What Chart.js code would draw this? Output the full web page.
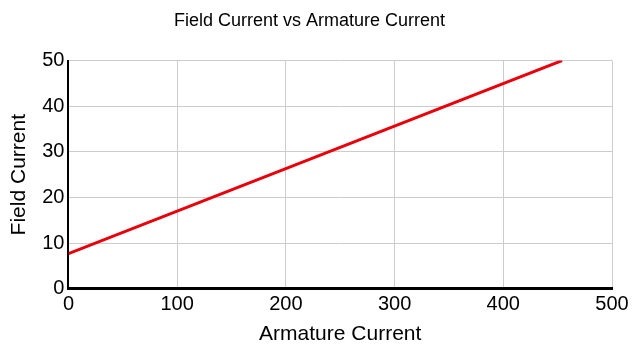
<!DOCTYPE html>
<html>
<head>
<meta charset="utf-8">
<script src="https://cdn.jsdelivr.net/npm/chart.js@4/dist/chart.umd.min.js"></script>
<style>
  html, body { margin: 0; padding: 0; background: #fff; }
  #wrap { width: 640px; height: 352px; }
</style>
</head>
<body>
<div id="wrap"><canvas id="chart" width="640" height="352"></canvas></div>
<script>
// datos
const armatureCurrent = [0, 454];
const fieldCurrent = [7.7, 50];
const xTicks = [0, 100, 200, 300, 400, 500];
const yTicks = [0, 10, 20, 30, 40, 50];

const puntos = armatureCurrent.map((x, i) => ({ x: x, y: fieldCurrent[i] }));
const fuente = "'Liberation Sans', Arial, sans-serif";

const ctx = document.getElementById("chart");
new Chart(ctx, {
  type: "scatter",
  data: {
    datasets: [
      {
        label: "Field Current",
        data: puntos,
        showLine: true,
        borderColor: "#e8000b",
        borderWidth: 3,
        pointRadius: 0,
        fill: false,
      },
    ],
  },
  options: {
    responsive: false,
    animation: false,
    layout: { padding: { left: 7, right: 28, top: 2, bottom: 5 } },
    plugins: {
      legend: { display: false },
      tooltip: { enabled: false },
      title: {
        display: true,
        text: "Field Current vs Armature Current",
        color: "#000",
        font: { family: fuente, size: 18, weight: "normal" },
        padding: { top: 8, bottom: 29 },
      },
    },
    scales: {
      x: {
        type: "linear",
        min: xTicks[0],
        max: xTicks[xTicks.length - 1],
        afterBuildTicks: (axis) => { axis.ticks = xTicks.map(v => ({ value: v })); },
        grid: { color: "#cccccc", lineWidth: 1, drawTicks: false },
        border: { color: "#000", width: 3 },
        ticks: { color: "#000", padding: 4, font: { family: fuente, size: 20 } },
        title: {
          display: true,
          text: "Armature Current",
          color: "#000",
          font: { family: fuente, size: 21 },
          padding: { top: 1, bottom: 0 },
        },
      },
      y: {
        type: "linear",
        min: yTicks[0],
        max: yTicks[yTicks.length - 1],
        ticks: {
          stepSize: 5,
          color: "#000",
          padding: 4,
          font: { family: fuente, size: 20 },
          callback: (v) => (yTicks.includes(v) ? v : ""),
        },
        grid: { color: "#cccccc", lineWidth: 1, drawTicks: false },
        border: { color: "#000", width: 2 },
        title: {
          display: true,
          text: "Field Current",
          color: "#000",
          font: { family: fuente, size: 21 },
          padding: { top: 0, bottom: 6 },
        },
      },
    },
  },
});
</script>
</body>
</html>
